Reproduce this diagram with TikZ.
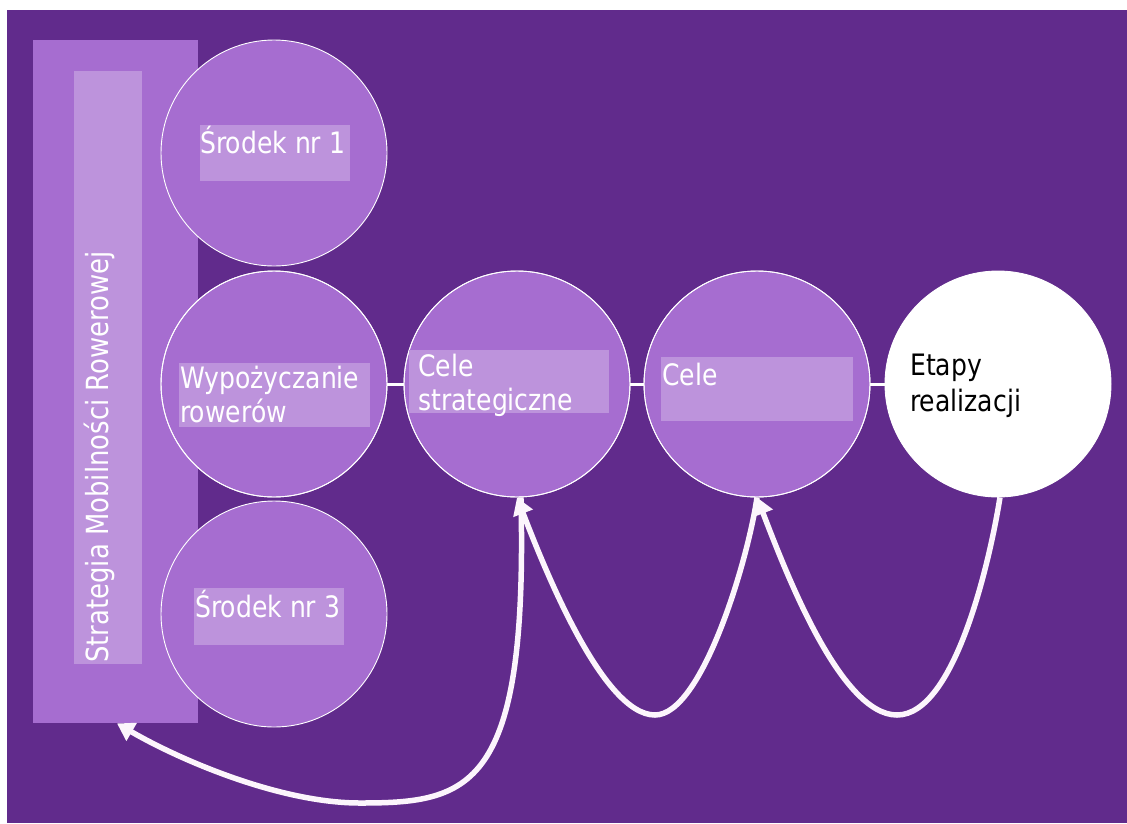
\documentclass[tikz,border=0pt]{standalone}
\usepackage{fontspec}
\setmainfont{DejaVu Sans}[FakeStretch=0.85]
\usetikzlibrary{arrows.meta}
\definecolor{bgpurple}{RGB}{97,43,140}
\definecolor{midpurple}{RGB}{166,109,208}
\definecolor{lightpurple}{RGB}{189,147,220}
\definecolor{arrowwhite}{RGB}{252,245,252}
\tikzset{
  bubble/.style={circle, draw=white, line width=0.9pt, fill=midpurple, minimum size=226pt, inner sep=0pt},
  labelbox/.style={fill=lightpurple, inner sep=0pt, anchor=north west},
  lbl/.style={text=white, inner sep=0pt, anchor=base west, font=\fontsize{29.5}{34}\selectfont},
  link/.style={draw=white, line width=3pt},
  conn/.style={draw=arrowwhite, line width=5.5pt, line join=round, -{Triangle[length=17pt,width=20pt]}},
}
\begin{document}
\begin{tikzpicture}[x=1pt,y=-1pt]
\useasboundingbox (0,0) rectangle (1127,823);
\fill[bgpurple] (7,10) rectangle (1127,823);
% left panel
\node[fill=midpurple, inner sep=0pt, minimum width=165pt, minimum height=683pt, anchor=north west] (panel) at (33,40) {};
\node[fill=lightpurple, inner sep=0pt, minimum width=68pt, minimum height=593pt, anchor=north west] (strip) at (74,71) {};
\node[text=white, inner sep=0pt, anchor=base west, rotate=90, font=\fontsize{30.5}{34}\selectfont] (stitle) at (108,663) {Strategia Mobilności Rowerowej};
% circles
\node[bubble] (c1) at (274,153) {};
\node[bubble] (c2) at (274,384) {};
\node[bubble] (c3) at (274,614) {};
\node[bubble] (c4) at (517,384) {};
\node[bubble] (c5) at (757,384) {};
\node[bubble, fill=white] (c6) at (998,384) {};
% links
\draw[link] (c2.east) -- (c4.west);
\draw[link] (c4.east) -- (c5.west);
\draw[link] (c5.east) -- (c6.west);
\node[bubble, fill=none] at (c2) {};
\node[bubble, fill=none] at (c4) {};
\node[bubble, fill=none] at (c5) {};
% label boxes
\node[labelbox, minimum width=150pt, minimum height=56pt] (b1) at (200,125) {};
\node[labelbox, minimum width=191pt, minimum height=64pt] (b2) at (179,363) {};
\node[labelbox, minimum width=150pt, minimum height=57pt] (b3) at (194,588) {};
\node[labelbox, minimum width=200pt, minimum height=63pt] (b4) at (409,350) {};
\node[labelbox, minimum width=192pt, minimum height=64pt] (b5) at (661,357) {};
% labels
\node[lbl] (t1) at (200,153) {Środek nr 1};
\node[lbl] (t2a) at (180,388) {Wypożyczanie};
\node[lbl] (t2b) at (180,422) {rowerów};
\node[lbl] (t3) at (195,617) {Środek nr 3};
\node[lbl] (t4a) at (418,376) {Cele};
\node[lbl] (t4b) at (418,410) {strategiczne};
\node[lbl] (t5) at (662,385) {Cele};
\node[lbl, text=black] (t6a) at (910,375) {Etapy};
\node[lbl, text=black] (t6b) at (910,411) {realizacji};
% connectors
\coordinate (v1) at (897,715);
\coordinate (v2) at (655,715);
\coordinate (v3) at (360,803);
\draw[conn] (c6.-89) .. controls (990,560) and (955,715) .. (v1)
  .. controls (840,715) and (785,570) .. (c5.south);
\draw[conn] (c5.south) .. controls (748,560) and (702,715) .. (v2)
  .. controls (603,715) and (545,570) .. (c4.south);
\draw[conn] (c4.-88) .. controls (528,790) and (470,803) .. (v3)
  .. controls (280,803) and (180,760) .. (panel.south west -| 117,0);
\end{tikzpicture}
\end{document}
